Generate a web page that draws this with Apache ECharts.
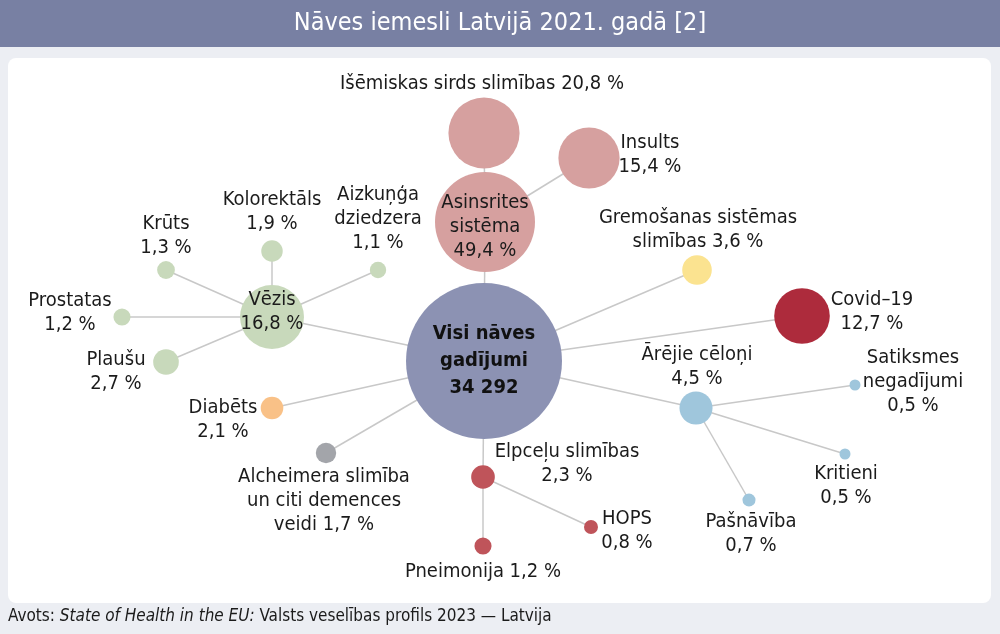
<!DOCTYPE html>
<html><head><meta charset="utf-8">
<script src="https://cdn.jsdelivr.net/npm/echarts@6/dist/echarts.min.js"></script>
<style>html,body{margin:0;padding:0;background:#eceef3}#c{width:1000px;height:634px}</style>
</head><body><div id="c"></div><script>
// ---- data ----
const titleText = 'Nāves iemesli Latvijā 2021. gadā [2]';
const totalDeaths = '34 292';
const names = [
  'Visi nāves\ngadījumi', 'Asinsrites\nsistēma', 'Išēmiskas sirds slimības', 'Insults',
  'Gremošanas sistēmas\nslimības', 'Covid–19', 'Ārējie cēloņi', 'Satiksmes\nnegadījumi',
  'Kritieni', 'Pašnāvība', 'Elpceļu slimības', 'Pneimonija', 'HOPS',
  'Alcheimera slimība\nun citi demences\nveidi', 'Diabēts', 'Vēzis', 'Krūts', 'Kolorektāls',
  'Aizkuņģa\ndziedzera', 'Prostatas', 'Plaušu'
];
const values = [100, 49.4, 20.8, 15.4, 3.6, 12.7, 4.5, 0.5, 0.5, 0.7, 2.3, 1.2, 0.8, 1.7, 2.1, 16.8, 1.3, 1.9, 1.1, 1.2, 2.7];
const groups = ['total','circ','circ','circ','dig','covid','ext','ext','ext','ext','resp','resp','resp','dem','diab','canc','canc','canc','canc','canc','canc'];
const parents = [-1, 0, 1, 1, 0, 0, 0, 6, 6, 6, 0, 10, 10, 0, 0, 0, 15, 15, 15, 15, 15];
const valueSameLine = [false,false,true,false,true,false,false,false,false,false,false,true,false,true,false,false,false,false,false,false,false];
const sourceParts = ['Avots: ', 'State of Health in the EU:', ' Valsts veselības profils 2023 — Latvija'];

// ---- layout (pixel positions of node centres and label offsets) ----
const nodeX = [484, 485, 484, 589, 697, 802, 696, 855, 845, 749, 483, 483, 591, 326, 272, 272, 166, 272, 378, 122, 166];
const nodeY = [361, 222, 133, 158, 270, 316, 408, 385, 454, 500, 477, 546, 527, 453, 408, 317, 270, 251, 270, 317, 362];
const labelDX = [0, 0, -2, 61, 1, 70, 1, 58, 1, 2, 84, 0, 36, -2, -49, 0, 0, 0, 0, -52, -50];
const labelDY = [0, 5, -49, -3, -40, -4, -41, -3, 32, 34, -13, 26, 4, 48, 12, -5, -34, -39, -51, -4, 10];
const groupColors = {total:'#8c92b3', circ:'#d6a09f', dig:'#fbe390', covid:'#ad2b3c', ext:'#9fc6dc', resp:'#bf545a', dem:'#a3a5aa', diab:'#f9c187', canc:'#c8d9bb'};
const R = 78;            // radius of the 100 % circle
const maxChild = 100;    // largest diameter of a sub-circle
const FONT = "'Liberation Sans Narrow','DejaVu Sans Condensed','Roboto',sans-serif";

const fmt = v => String(v).replace('.', ',') + ' %';
const nodes = names.map((n, i) => {
  const txt = i === 0 ? n + '\n' + totalDeaths : n + (valueSameLine[i] ? ' ' : '\n') + fmt(values[i]);
  const d = 2 * R * Math.sqrt(values[i] / 100);
  const item = {
    id: String(i), name: n.replace(/\n/g, ' '), value: [nodeX[i], nodeY[i]],
    symbolSize: i === 0 ? d : Math.min(d, maxChild),
    itemStyle: { color: groupColors[groups[i]] },
    label: { show: true, position: 'inside', offset: [labelDX[i], labelDY[i]], align: 'center', verticalAlign: 'middle',
      formatter: txt, fontFamily: FONT, fontSize: 20, lineHeight: 24, color: '#1b1b1b' }
  };
  if (i === 0) { item.label.fontWeight = 'bold'; item.label.fontSize = 20; item.label.lineHeight = 27; item.label.color = '#111'; }
  return item;
});
const links = [];
parents.forEach((p, i) => { if (p >= 0) links.push({ source: String(p), target: String(i) }); });

const chart = echarts.init(document.getElementById('c'), null, { renderer: 'canvas' });
chart.setOption({
  animation: false,
  grid: { left: 0, right: 0, top: 0, bottom: 0 },
  xAxis: { type: 'value', min: 0, max: 1000, show: false },
  yAxis: { type: 'value', min: 0, max: 634, inverse: true, show: false },
  graphic: [
    { type: 'rect', z: -10, shape: { x: 0, y: 0, width: 1000, height: 634 }, style: { fill: '#eceef3' } },
    { type: 'rect', z: -9, shape: { x: 0, y: 0, width: 1000, height: 47 }, style: { fill: '#7880a3' } },
    { type: 'rect', z: -9, shape: { x: 8, y: 58, width: 983, height: 545, r: 8 }, style: { fill: '#ffffff' } },
    { type: 'text', z: 10, left: 'center', top: 11, style: { text: titleText, fill: '#ffffff', font: "25px " + FONT } },
    { type: 'text', z: 10, left: 8, top: 608, style: {
      text: '{n|' + sourceParts[0] + '}{i|' + sourceParts[1] + '}{n|' + sourceParts[2] + '}',
      rich: { n: { fontFamily: FONT, fontSize: 17, fill: '#1b1b1b' }, i: { fontFamily: FONT, fontSize: 17, fontStyle: 'italic', fill: '#1b1b1b' } } } }
  ],
  series: [{
    type: 'graph', layout: 'none', coordinateSystem: 'cartesian2d',
    data: nodes, links: links, silent: true,
    lineStyle: { color: '#c8c8c8', width: 1.5, opacity: 1, curveness: 0 },
    emphasis: { disabled: true }
  }]
});
</script></body></html>
